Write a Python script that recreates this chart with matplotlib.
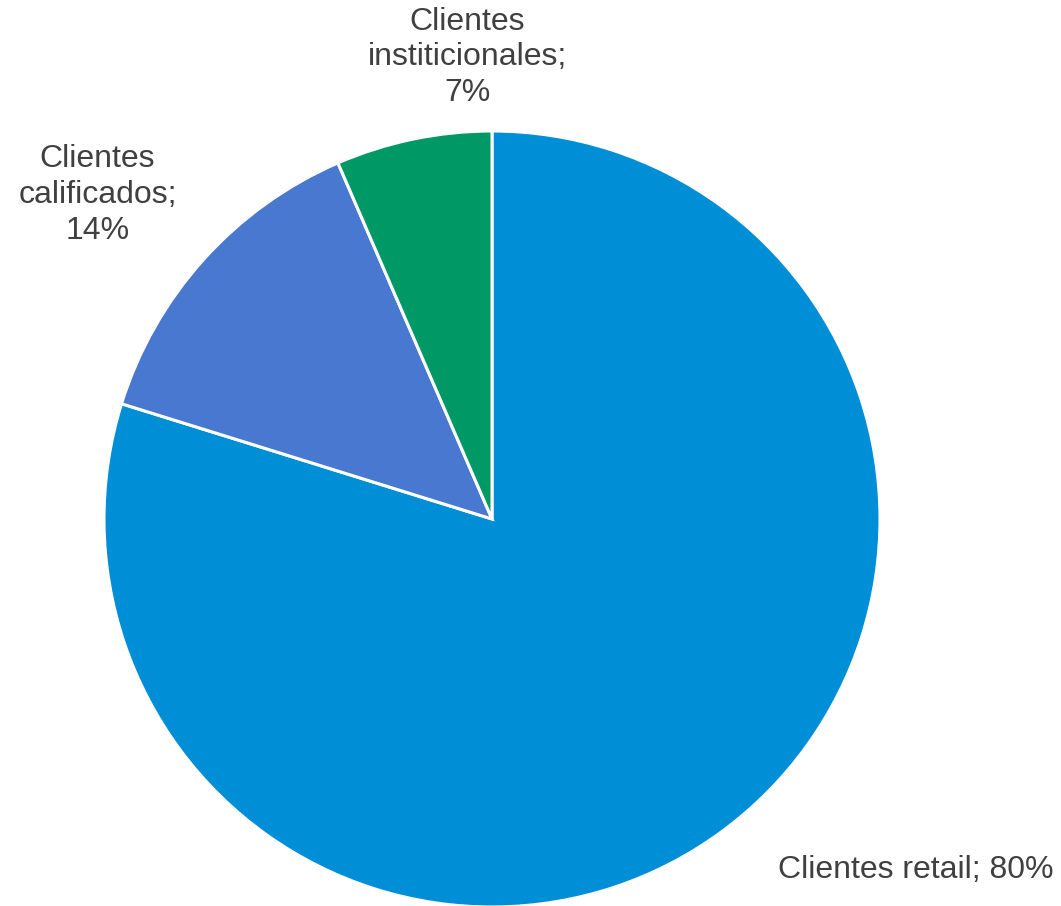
import matplotlib.pyplot as plt

plt.rcParams['font.family'] = ['Liberation Sans', 'DejaVu Sans']

categories = ['Clientes retail', 'Clientes\ncalificados', 'Clientes\ninstiticionales']
values = [79.8, 13.7, 6.5]
shown_pct = [80, 14, 7]
colors = ['#008FD7', '#4878CF', '#009966']

fig = plt.figure(figsize=(10.61, 9.06), dpi=100)
r_px = 388
cx, cy = 492, 906 - 519
ax = fig.add_axes([(cx - r_px) / 1061, (cy - r_px) / 906, 2 * r_px / 1061, 2 * r_px / 906])

ax.pie(values, colors=colors, startangle=90, counterclock=False, radius=1,
       wedgeprops=dict(edgecolor='white', linewidth=2.2))
ax.set_xlim(-1, 1)
ax.set_ylim(-1, 1)
ax.set_aspect('equal')
ax.axis('off')

label_pos = [(1.093, -0.905), (-1.017, 0.835), (-0.064, 1.19)]
for cat, p, (x, y) in zip(categories, shown_pct, label_pos):
    ax.text(x, y, f'{cat}; {p}%' if '\n' not in cat else f'{cat};\n{p}%',
            ha='center', va='center', multialignment='center',
            fontsize=23, color='#404040', clip_on=False, linespacing=1.25)

fig.savefig('out.png', dpi=100)
